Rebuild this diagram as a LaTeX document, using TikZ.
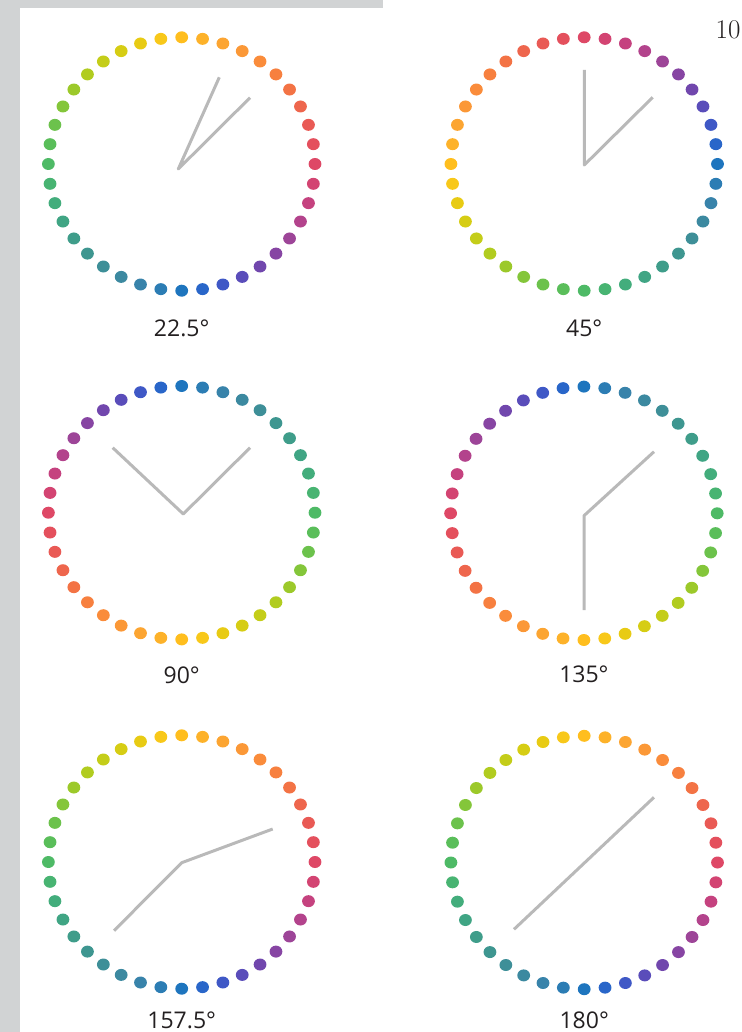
\documentclass[tikz,border=0pt]{standalone}
\usepackage{fontspec}
\usepackage{tikz}
\usetikzlibrary{calc}
\newfontfamily\dialfont{Open Sans}
\definecolor{band}{HTML}{D1D3D4}
\definecolor{ink}{HTML}{231F20}
\definecolor{handgray}{HTML}{B9B9B9}
% wheel colours, clockwise from the top of the first dial
\definecolor{wc0}{HTML}{FFBE1E}
\definecolor{wc1}{HTML}{FDB22A}
\definecolor{wc2}{HTML}{FCA532}
\definecolor{wc3}{HTML}{FB9837}
\definecolor{wc4}{HTML}{FA8C3B}
\definecolor{wc5}{HTML}{F7803F}
\definecolor{wc6}{HTML}{F37345}
\definecolor{wc7}{HTML}{EE664D}
\definecolor{wc8}{HTML}{E95A55}
\definecolor{wc9}{HTML}{E4505D}
\definecolor{wc10}{HTML}{DE4866}
\definecolor{wc11}{HTML}{D34472}
\definecolor{wc12}{HTML}{C5427F}
\definecolor{wc13}{HTML}{B3438C}
\definecolor{wc14}{HTML}{9D4598}
\definecolor{wc15}{HTML}{8745A3}
\definecolor{wc16}{HTML}{7147AD}
\definecolor{wc17}{HTML}{5A4DBA}
\definecolor{wc18}{HTML}{3F58C6}
\definecolor{wc19}{HTML}{2966C9}
\definecolor{wc20}{HTML}{1E75BE}
\definecolor{wc21}{HTML}{2C7DB4}
\definecolor{wc22}{HTML}{3883AA}
\definecolor{wc23}{HTML}{3C89A0}
\definecolor{wc24}{HTML}{3E8F98}
\definecolor{wc25}{HTML}{3E9690}
\definecolor{wc26}{HTML}{3F9D8A}
\definecolor{wc27}{HTML}{40A584}
\definecolor{wc28}{HTML}{43AD7C}
\definecolor{wc29}{HTML}{48B472}
\definecolor{wc30}{HTML}{4EBA66}
\definecolor{wc31}{HTML}{5ABE5A}
\definecolor{wc32}{HTML}{6CC24C}
\definecolor{wc33}{HTML}{84C63A}
\definecolor{wc34}{HTML}{9CC92A}
\definecolor{wc35}{HTML}{B1CC20}
\definecolor{wc36}{HTML}{C4CD19}
\definecolor{wc37}{HTML}{D6CD14}
\definecolor{wc38}{HTML}{E8CB14}
\definecolor{wc39}{HTML}{F8C81A}
\tikzset{
  hand/.style={draw=handgray,line width=3pt,line join=round},
  lbl/.style={font=\dialfont\fontsize{23}{27}\selectfont,text=ink,inner sep=0pt,anchor=base},
  pagenum/.style={font=\fontsize{27}{30}\selectfont,text=ink,inner sep=0pt,anchor=base east},
}

\begin{document}
\begin{tikzpicture}[x=1pt,y=-1pt]
\useasboundingbox (0,0) rectangle (741,1032);
\fill[band] (0,0) rectangle (20,1032);
\fill[band] (0,0) rectangle (383,8.5);
\node[pagenum] (page) at (740.7,38.3) {10};
% centre / colour offset / hand vertex / hand tips / label / baseline
\foreach \cx/\cy/\off/\vx/\vy/\ax/\ay/\bx/\by/\lab/\base [count=\k] in {
  181.7/164/0/178.3/169/219.3/77.3/250/97.7/22.5°/336,
  584.2/164/10/584.3/165/584.3/70/652.7/97.3/45°/336,
  181.7/512.7/20/183.3/514/112.7/447.7/250/447.7/90°/683.3,
  583.9/513.3/20/584/515.7/654/451.7/584/610/135°/682.7,
  181.7/862/0/181.7/862.7/272.7/829/114/930.7/157.5°/1028.3,
  584.2/862.5/0/584/863.3/654/797.3/514/929.3/180°/1028.3}{
  \coordinate (c\k) at (\cx,\cy);
  \foreach \i in {0,...,39}{
    \pgfmathtruncatemacro\n{mod(\i+\off,40)}
    \fill[wc\n] ($(c\k)+({133.3*sin(9*\i)},{-126.7*cos(9*\i)})$) ellipse [x radius=6.4pt,y radius=6pt];
  }
  \coordinate (v\k) at (\vx,\vy);
  \coordinate (ha\k) at (\ax,\ay);
  \coordinate (hb\k) at (\bx,\by);
  \draw[hand] (ha\k) -- (v\k) -- (hb\k);
  \node[lbl] (lab\k) at (\cx,\base) {\lab};
}
\end{tikzpicture}
\end{document}
